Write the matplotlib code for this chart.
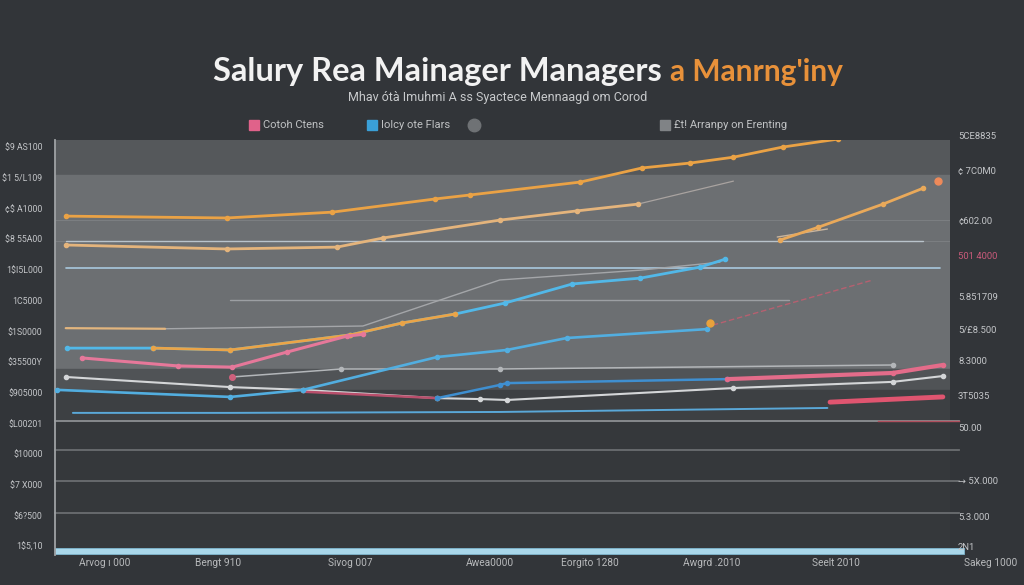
import matplotlib
matplotlib.use("Agg")
import matplotlib.pyplot as plt
from matplotlib.patches import Rectangle
from matplotlib.lines import Line2D

# ---------------- data ----------------
y_ticks = [160000, 150000, 140000, 130000, 120000, 110000, 100000, 90000,
           80000, 70000, 60000, 50000, 40000, 30000]
y_tick_labels = ["$9 AS100", "$1 5/L109", "¢$ A1000", "$8 55A00", "1$I5L000",
                 "1C5000", "$1S0000", "$35500Y", "$905000", "$L00201",
                 "$10000", "$7 X000", "$6?500", "1$5,10"]

right_label_vals = [163300, 152200, 135900, 124500, 111100, 100400, 90000,
                    78600, 68200, 51200, 39200, 29400]
right_labels = ["5CE8835", "¢ 7C0M0", "¢602.00", "501 4000", "5.851709",
                "5/£8.500", "8.3000", "3T5035", "50.00", "→ 5X.000",
                "5.3.000", "2N1"]

x_cat_pos = [5.6, 18.2, 32.96, 48.6, 59.8, 73.4, 87.2, 104.5]
x_cat_labels = ["Arvog ı 000", "Bengt 910", "Sivog 007", "Awea0000",
                "Eorgito 1280", "Awgrd .2010", "Seelt 2010", "Sakeg 1000"]

orange_top_x = [1.2, 19.2, 31.0, 42.5, 46.4, 58.7, 65.6, 71.0, 75.8, 81.3, 87.5]
orange_top_y = [137500, 136900, 138800, 143100, 144400, 148600, 153200,
                154800, 156700, 160000, 162600]

tan_x = [1.2, 19.2, 31.5, 36.7, 49.7, 58.3, 65.1]
tan_y = [128100, 126800, 127400, 130400, 136200, 139200, 141400]
tan_tail_x = [65.1, 75.8]
tan_tail_y = [141400, 148900]

orange_right_x = [81.0, 85.3, 92.5, 97.0, 98.7]
orange_right_y = [129700, 133900, 141400, 146600, 148900]
gray_par_x = [80.7, 86.3]
gray_par_y = [130700, 133300]

flat_a_x = [1.2, 97.0]
flat_a_y = [129400, 129400]
flat_b_x = [1.2, 98.9]
flat_b_y = [120600, 120600]
flat_c_x = [19.5, 82.0]
flat_c_y = [110200, 110200]

blue_main_x = [1.3, 11.0, 19.6, 33.0, 38.8, 44.7, 50.3, 57.8, 65.4, 72.1, 74.9]
blue_main_y = [94500, 94500, 93900, 98800, 102700, 105600, 109200, 115400,
               117300, 120900, 123500]
orange_mid_x = [11.0, 19.6, 33.0, 38.8, 44.7]
orange_mid_y = [94500, 93900, 98800, 102700, 105600]

tan_short_x = [1.2, 12.3]
tan_short_y = [101000, 100800]
gray_rise_x = [12.3, 34.4, 49.7, 65.4, 74.3]
gray_rise_y = [100800, 101700, 116700, 119900, 122500]

pink_x = [3.0, 13.7, 19.8, 25.9, 32.6, 34.4]
pink_y = [91300, 88700, 88300, 93200, 98400, 99000]

lightgray_x = [19.8, 32.0, 49.7, 93.6]
lightgray_y = [85100, 87700, 87700, 89000]

white_x = [1.2, 19.6, 27.7, 42.7, 47.5, 50.5, 75.8, 93.6, 99.2]
white_y = [85100, 81800, 80900, 78200, 77900, 77600, 81500, 83500, 85400]

blue2_x = [0.2, 19.6, 27.7, 42.7, 50.5, 57.2, 72.9]
blue2_y = [80900, 78600, 80900, 91600, 93900, 97800, 100700]

darkpink_x = [27.7, 42.7]
darkpink_y = [80300, 78200]

blue3_x = [42.7, 49.7, 50.5, 75.1]
blue3_y = [78200, 82500, 83100, 84400]
pink3_x = [75.1, 93.6, 99.2]
pink3_y = [84400, 86400, 89000]

blue_bottom_x = [2.0, 19.6, 49.7, 86.3]
blue_bottom_y = [73400, 73400, 73700, 75000]
red_bottom_x = [86.6, 99.2]
red_bottom_y = [76900, 78600]

red_thin_x = [73.5, 91.4]
red_thin_y = [102000, 116700]

grid_low_vals = [70800, 61300, 51200, 40800]
base_bar_val = 28400

# ---------------- styling ----------------
FONTS = ["Roboto", "DejaVu Sans"]
BG = "#323539"
fig = plt.figure(figsize=(10.24, 5.85), dpi=100, facecolor=BG)
ax = fig.add_axes([55 / 1024, 30 / 585, 895 / 1024, 415 / 585])
ax.set_facecolor("#35383b")
ax.set_xlim(0, 100)
ax.set_ylim(27100, 162300)

# background bands
ax.axhspan(150900, 162300, color="#55585b", zorder=0)
ax.axhspan(87700, 150900, color="#6c6f72", zorder=0)
ax.axhspan(80900, 87700, color="#505356", zorder=0)
ax.axhspan(70800, 80900, color="#3d4043", zorder=0)

# faint grid inside light region
for v in [136200, 129400]:
    ax.axhline(v, color="#7b7e81", lw=0.8, zorder=1)

# lower grid lines
for i, v in enumerate(grid_low_vals):
    ax.plot([0, 101], [v, v], color="#8c8f92" if i == 0 else "#6b6e71",
            lw=1.3, clip_on=False, zorder=1)
ax.plot([92, 101], [grid_low_vals[0]] * 2, color="#b0505e", lw=1.0,
        clip_on=False, zorder=1)

# base bar
ax.barh(base_bar_val, 101.6, left=0, height=2100, color="#a9d7ea",
        edgecolor="#7fb7cf", lw=0.6, clip_on=False, zorder=2)

mk = dict(marker="o", markersize=3)

def line(x, y, c, lw=1.6, alpha=1.0, z=3, **kw):
    ax.plot(x, y, color=c, lw=lw, alpha=alpha, zorder=z,
            solid_capstyle="round", **kw)

line(flat_a_x, flat_a_y, "#b9c3cb", lw=1.0)
line(flat_b_x, flat_b_y, "#a9c9df", lw=1.2)
line(flat_c_x, flat_c_y, "#9c9fa3", lw=1.0)
line(gray_rise_x, gray_rise_y, "#a4a6a9", lw=1.0)
line(tan_tail_x, tan_tail_y, "#a9a3a0", lw=0.9)
line(gray_par_x, gray_par_y, "#c9b59e", lw=1.0)
line(red_thin_x, red_thin_y, "#b66070", lw=1.0, linestyle=(0, (4, 2)))

line(orange_top_x, orange_top_y, "#eaa245", lw=2.0, **mk)
line(tan_x, tan_y, "#e4b47c", lw=2.0, **mk)
line(orange_right_x[:-1], orange_right_y[:-1], "#e9a95a", lw=2.0, **mk)
ax.plot(orange_right_x[-1], orange_right_y[-1], "o", color="#ee8a5a",
        markersize=5, zorder=4)

line(lightgray_x, lightgray_y, "#b3b6b9", lw=1.1, **mk)
line(white_x, white_y, "#d4d6d8", lw=1.5, **mk)
line(darkpink_x, darkpink_y, "#b94f6c", lw=1.8)
line(blue2_x, blue2_y, "#52aee0", lw=1.9, **mk)
ax.plot(73.2, 102700, "o", color="#e9a23c", markersize=5, zorder=4)
line(blue3_x, blue3_y, "#3f8fd0", lw=1.8, **mk)
line(pink3_x, pink3_y, "#e46c8a", lw=3.0, **mk)
line(blue_bottom_x, blue_bottom_y, "#5aa8d8", lw=1.4)
line(red_bottom_x, red_bottom_y, "#e05570", lw=3.5)

line(blue_main_x, blue_main_y, "#52b8e8", lw=2.0, **mk)
line(orange_mid_x, orange_mid_y, "#eaa448", lw=2.0, **mk)
line(tan_short_x, tan_short_y, "#e2b57e", lw=1.6)
line(pink_x, pink_y, "#e6789a", lw=2.2, **mk)
ax.plot(19.8, 85100, "o", color="#d0607c", markersize=4, zorder=4)

# spines / ticks
for s in ["top", "right", "bottom"]:
    ax.spines[s].set_visible(False)
ax.spines["left"].set_color("#9fa2a5")
ax.spines["left"].set_linewidth(1.3)
ax.set_xticks([])
ax.set_yticks(y_ticks)
ax.set_yticklabels(y_tick_labels, fontsize=6.3, color="#c3c5c8",
                   family=FONTS)
ax.tick_params(axis="y", length=0, pad=9)

for v, t in zip(right_label_vals, right_labels):
    ax.text(100.9, v, t, fontsize=6.8, color="#c85a7a" if t == "501 4000"
            else "#c3c5c8", va="center", ha="left", family=FONTS,
            clip_on=False)

for x, t in zip(x_cat_pos, x_cat_labels):
    ax.text(x, 24500, t, fontsize=7.3, color="#b8babc", ha="center",
            va="center", family=FONTS, clip_on=False)

# titles
fig.text(437 / 1024, 1 - 72 / 585, "Salury Rea Mainager Managers",
         fontsize=23.5, fontweight="bold", color="#f2f2f2", ha="center",
         va="center", family="Lato")
fig.text(670 / 1024, 1 - 72 / 585, "a Manrng'iny", fontsize=21.5,
         fontweight="bold", color="#e8913a", ha="left", va="center",
         family="Lato")
fig.text(498 / 1024, 1 - 97 / 585,
         "Mhav ótà Imuhmi A ss Syactece Mennaagd om Corod",
         fontsize=9, color="#c8cacc", ha="center", va="center",
         family=FONTS)

# legend (manual)
ly = 1 - 125 / 585
sq = 10
def sq_patch(px, color):
    fig.patches.append(Rectangle((px / 1024, ly - 5 / 585), sq / 1024,
                                 sq / 585, transform=fig.transFigure,
                                 color=color))
sq_patch(249, "#e0628a")
fig.text(263 / 1024, ly, "Cotoh Ctens", fontsize=8, color="#c0c2c4",
         va="center", family=FONTS)
sq_patch(367, "#3aa0d8")
fig.text(381 / 1024, ly, "Iolcy ote Flars", fontsize=8, color="#c0c2c4",
         va="center", family=FONTS)
fig.add_artist(Line2D([474 / 1024], [ly], marker="o", markersize=9,
                      color="#6f7275", linestyle="none",
                      transform=fig.transFigure))
sq_patch(660, "#808386")
fig.text(674 / 1024, ly, "£t! Arranpy on Erenting", fontsize=8,
         color="#c0c2c4", va="center", family=FONTS)

fig.savefig("out.png", dpi=100, facecolor=BG)
